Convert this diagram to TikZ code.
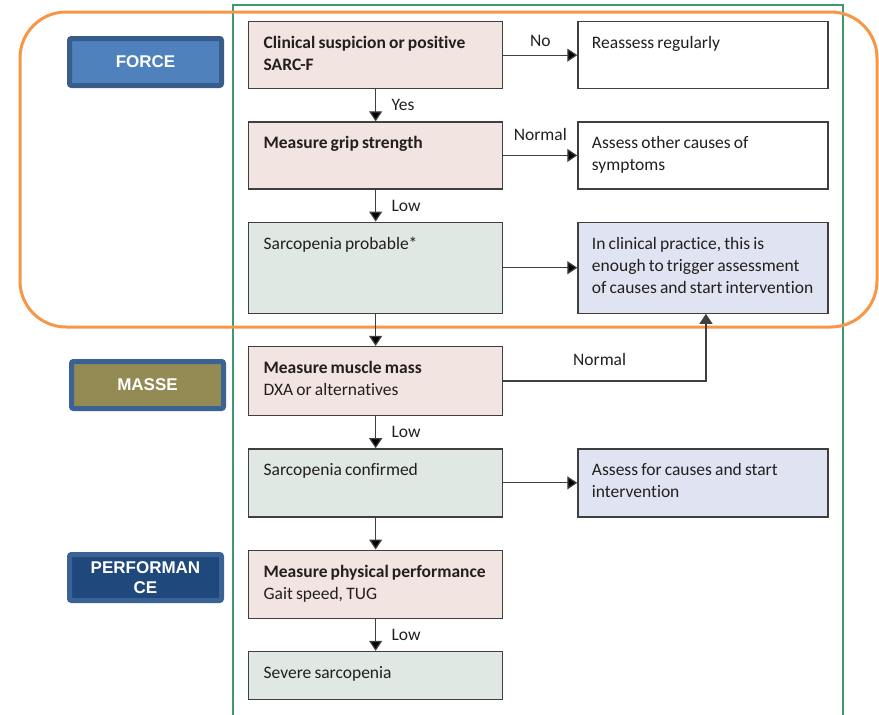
\documentclass[tikz,border=0pt]{standalone}
\usepackage{fontspec}
\setmainfont{Carlito}[Ligatures=NoCommon]
\newfontfamily\tagfont{Liberation Sans}
\usepackage{xcolor}
\usepackage{tikz}
\usetikzlibrary{positioning}
\usetikzlibrary{arrows.meta}
\hyphenpenalty=10000
\newcommand{\boxfont}{\fontsize{17.5}{22}\selectfont\spaceskip=0.18em plus 0.08em minus 0.03em\relax}
\definecolor{boxline}{HTML}{3F3F3F}
\definecolor{txt}{HTML}{231F20}
\definecolor{pinkfill}{HTML}{F2E4E0}
\definecolor{greenfill}{HTML}{DFE8E2}
\definecolor{lilacfill}{HTML}{E0E4F2}
\definecolor{forcefill}{HTML}{4F81BD}
\definecolor{forceline}{HTML}{385D8A}
\definecolor{massefill}{HTML}{948A54}
\definecolor{perffill}{HTML}{1F497D}
\definecolor{tagline}{HTML}{3A6294}
\definecolor{ring}{HTML}{F79646}
\definecolor{frame}{HTML}{3C9A70}

\begin{document}
\begin{tikzpicture}[x=1pt,y=-1pt,-,node distance=32pt,>={Triangle[length=10pt,width=13pt]},
	main node/.style={draw=boxline, line width=1.3pt, text=txt, text width=224pt, inner xsep=15pt, inner ysep=12pt, align=flush left, text height=15pt, font=\boxfont},
	side node/.style={main node, text width=222pt, inner xsep=14pt},
	tag node/.style={line width=5pt, draw=tagline, rounded corners=2pt, minimum width=152pt, minimum height=47pt, text=white, align=center, font=\tagfont\bfseries\fontsize{17}{20}\selectfont}]
			\useasboundingbox (0,0) rectangle (879,715);
			% Frame
			\draw[frame, line width=1.2pt] (233,715) -- (233,5) -- (843,5) -- (843,715);
			
			% Nodes
			\node[main node, fill=pinkfill, text depth=28pt, anchor=north west] (1) at (248,21) {\textbf{Clinical suspicion or positive}\\\textbf{SARC-F}};
			\node[main node, fill=pinkfill, text depth=28pt] (2) [below=of 1] {\textbf{Measure grip strength}};
			\node[main node, fill=greenfill, text depth=52pt] (3) [below=of 2] {Sarcopenia probable*};
			\node[main node, fill=pinkfill, text depth=30pt] (4) [below=of 3] {\textbf{Measure muscle mass}\\DXA or alternatives};
			\node[main node, fill=greenfill, text depth=29pt] (5) [below=of 4] {Sarcopenia confirmed};
			\node[main node, fill=pinkfill, text depth=29pt] (6) [below=of 5] {\textbf{Measure physical performance}\\Gait speed, TUG};
			\node[main node, fill=greenfill, text depth=9pt] (7) [below=of 6] {Severe sarcopenia};
			
			\node[side node, fill=white, text depth=28pt] (8) [right=74pt of 1] {Reassess regularly};
			\node[side node, fill=white, text depth=28pt] (9) [right=74pt of 2] {Assess other causes of\\symptoms};
			\node[side node, fill=lilacfill, text depth=52pt] (10) [right=74pt of 3] {In clinical practice, this is\\enough to trigger assessment\\of causes and start intervention};
			\node[side node, fill=lilacfill, text depth=29pt] (11) [right=74pt of 5] {Assess for causes and start\\intervention};
			
			\node[tag node, fill=forcefill, draw=forceline] (12) at (145.5,62) {FORCE};
			\node[tag node, fill=massefill] (13) at (147.5,385) {MASSE};
			\node[tag node, fill=perffill, minimum height=46pt] (14) at (145.5,577.5) {PERFORMAN\\CE};
			
			% Ring round the force part
			\draw[ring, line width=3pt, rounded corners=46pt] (20,12) rectangle (877,327);
			
			\path[->, draw=boxline, line width=1.2pt, every node/.style={text=txt, font=\boxfont}]
			(1)
			edge node[above, yshift=5pt] {No} (8)
			edge node[right, xshift=12pt] {Yes} (2)
			
			(2)
			edge node[above, yshift=11pt] {Normal} (9)
			edge node[right, xshift=12pt] {Low} (3)
			
			(3)
			edge (10)
			edge (4)
			
			(4)
			edge node[right, xshift=12pt] {Low} (5)
			
			(5)
			edge (11)
			edge (6)
			
			(6) edge node[right, xshift=12pt] {Low} (7);
			
			\draw[->, draw=boxline, line width=1.2pt] (4) -| node[pos=0.25, above, yshift=11pt, xshift=-5pt, text=txt, font=\boxfont] {Normal} ([xshift=3pt]10.south);
			
		\end{tikzpicture}
\end{document}
